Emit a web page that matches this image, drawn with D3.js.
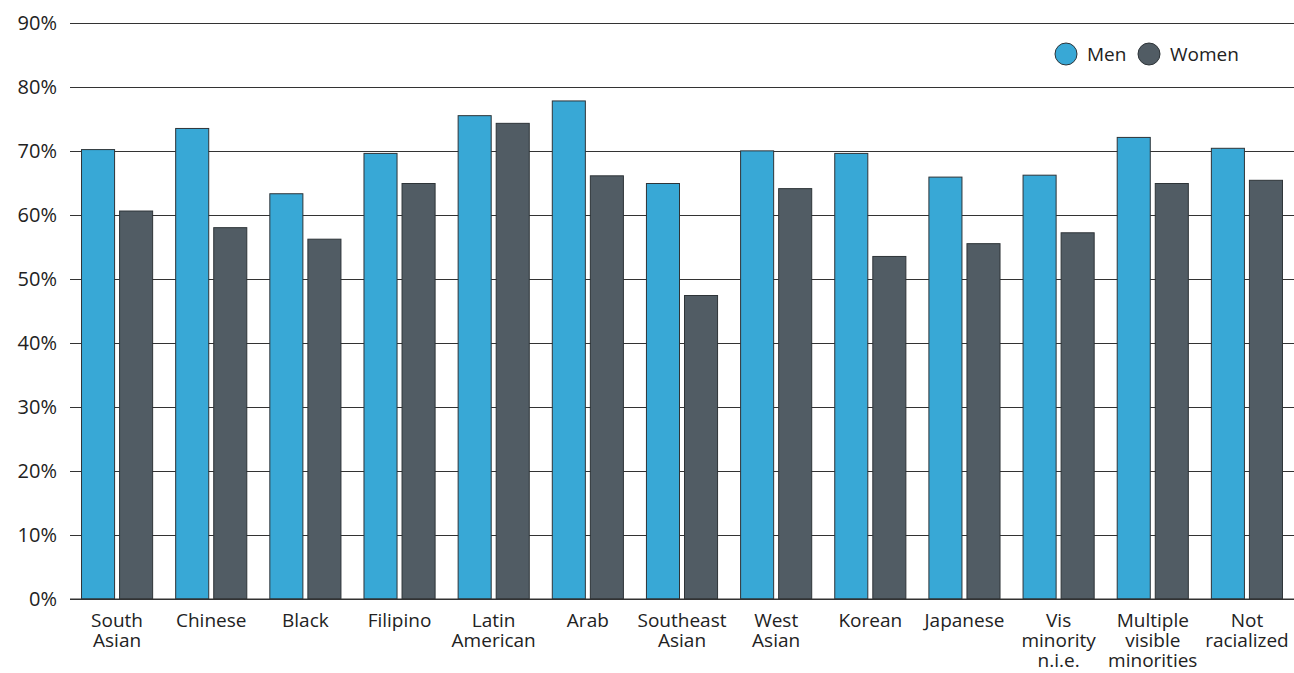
<!DOCTYPE html>
<html>
<head>
<meta charset="utf-8">
<script src="https://cdn.jsdelivr.net/npm/d3@7"></script>
<style>
  body { margin: 0; background: #fff; }
  text { font-family: "Open Sans", "Noto Sans", sans-serif; fill: #222; }
</style>
</head>
<body>
<div id="chart"></div>
<script>
// chart data
let categories = [
    ['South', 'Asian'], ['Chinese'], ['Black'], ['Filipino'], ['Latin', 'American'],
    ['Arab'], ['Southeast', 'Asian'], ['West', 'Asian'], ['Korean'], ['Japanese'],
    ['Vis', 'minority', 'n.i.e.'], ['Multiple', 'visible', 'minorities'], ['Not', 'racialized']
];
let seriesNames = ['Men', 'Women'];
let menValues = [70.3, 73.6, 63.4, 69.7, 75.6, 77.9, 65.0, 70.1, 69.7, 66.0, 66.3, 72.2, 70.5];
let womenValues = [60.7, 58.1, 56.3, 65.0, 74.4, 66.2, 47.5, 64.2, 53.6, 55.6, 57.3, 65.0, 65.5];
let yTicks = [0, 10, 20, 30, 40, 50, 60, 70, 80, 90];

// svg dimensions
let svgWidth = 1294,
    svgHeight = 673;

let margin = { top: 23, right: 0, bottom: 74, left: 70 };
let chartWidth = svgWidth - margin.left - margin.right;
let chartHeight = svgHeight - margin.top - margin.bottom;

let colors = { Men: '#38a8d6', Women: '#515c64' };

let svg = d3.select('#chart')
    .append('svg')
    .attr('width', svgWidth)
    .attr('height', svgHeight);

let chartGroup = svg.append('g')
    .attr('transform', `translate(${margin.left}, ${margin.top})`);

let keys = categories.map(c => c.join(' '));

let x0 = d3.scaleBand()
    .domain(keys)
    .range([0, chartWidth])
    .paddingInner(0.234)
    .paddingOuter(0.117);

let x1 = d3.scaleBand()
    .domain(seriesNames)
    .range([0, x0.bandwidth()])
    .paddingInner(0.105);

let yScale = d3.scaleLinear()
    .domain([0, 90])
    .range([chartHeight, 0]);

// gridlines + y labels
let leftAxis = d3.axisLeft(yScale)
    .tickValues(yTicks)
    .tickSize(-chartWidth)
    .tickPadding(13)
    .tickFormat(d => d + '%');

let yAxis = chartGroup.append('g').call(leftAxis);
yAxis.select('.domain').remove();
yAxis.selectAll('line').attr('stroke', '#333').attr('stroke-width', 1.2);
yAxis.selectAll('text')
    .style('font-size', '20px')
    .attr('fill', '#222');

// bars
let rows = keys.map((k, i) => ({ key: k, Men: menValues[i], Women: womenValues[i] }));

let groups = chartGroup.selectAll('.group')
    .data(rows)
    .enter()
    .append('g')
    .attr('transform', d => `translate(${x0(d.key)}, 0)`);

groups.selectAll('rect')
    .data(d => seriesNames.map(s => ({ s: s, v: d[s] })))
    .enter()
    .append('rect')
    .attr('x', d => x1(d.s) + 0.5)
    .attr('y', d => yScale(d.v) + 0.5)
    .attr('width', x1.bandwidth() - 1)
    .attr('height', d => chartHeight - yScale(d.v) - 0.5)
    .attr('fill', d => colors[d.s])
    .attr('stroke', '#2e3438')
    .attr('stroke-width', 1);

// baseline over bars
chartGroup.append('line')
    .attr('x1', 0).attr('x2', chartWidth)
    .attr('y1', chartHeight).attr('y2', chartHeight)
    .attr('stroke', '#333').attr('stroke-width', 1.2);

// x labels
let xLabels = chartGroup.append('g')
    .attr('transform', `translate(0, ${chartHeight})`);

categories.forEach((lines, i) => {
    let t = xLabels.append('text')
        .attr('x', x0(keys[i]) + x0.bandwidth() / 2)
        .attr('y', 28)
        .attr('text-anchor', 'middle')
        .style('font-size', '19px');
    lines.forEach((ln, j) => {
        t.append('tspan')
            .attr('x', x0(keys[i]) + x0.bandwidth() / 2)
            .attr('dy', j === 0 ? 0 : 20)
            .text(ln);
    });
});

// legend
let legend = svg.append('g')
    .attr('transform', 'translate(1066, 54)');

let legendX = [0, 83];
seriesNames.forEach((s, i) => {
    let g = legend.append('g').attr('transform', `translate(${legendX[i]}, 0)`);
    g.append('circle')
        .attr('r', 11)
        .attr('fill', colors[s])
        .attr('stroke', '#2e3438')
        .attr('stroke-width', 1);
    g.append('text')
        .attr('x', 21)
        .attr('y', 7)
        .style('font-size', '19px')
        .text(s);
});
</script>
</body>
</html>
